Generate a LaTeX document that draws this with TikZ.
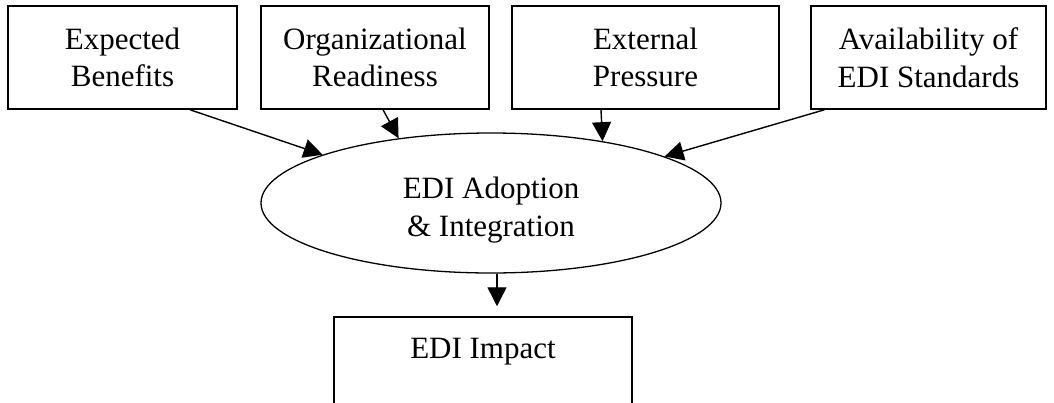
\documentclass[tikz,border=0pt]{standalone}
\usepackage{fontspec}
\setmainfont{Liberation Serif}
\usetikzlibrary{shapes.geometric,arrows.meta}
\begin{document}
\begin{tikzpicture}[x=1pt,y=-1pt,
  every node/.style={font=\fontsize{31}{37.5}\selectfont, align=center, inner sep=0pt},
  factor/.style={draw, line width=1.5pt, minimum height=103pt},
  central/.style={draw, ellipse, line width=1.3pt, minimum width=460pt, minimum height=140pt},
  arr/.style={line width=1.4pt, -{Triangle[length=19pt,width=19pt]}}]
\useasboundingbox (0,0) rectangle (1054,402);
\clip (0,0) rectangle (1054,402);
\node[factor, minimum width=229pt] (b1) at (122.5,57.5) {Expected\\Benefits};
\node[factor, minimum width=228pt] (b2) at (375,57.5) {Organizational\\Readiness};
\node[factor, minimum width=267pt] (b3) at (645.5,57.5) {External\\Pressure};
\node[factor, minimum width=235pt] (b4) at (928.5,57.5) {Availability of\\EDI Standards};
\node[central, label={[yshift=-7pt]center:{EDI Adoption\\\& Integration}}] (e) at (491,203) {};
\node[factor, minimum width=298pt, minimum height=100pt] (imp) at (483,367) {EDI Impact\\\mbox{}};
\draw[arr] ([xshift=67.5pt]b1.south) -- (e.164);
\draw[arr] ([xshift=8pt]b2.south) -- (e.145.5);
\draw[arr] ([xshift=-44.5pt]b3.south) -- (e.29.2);
\draw[arr] ([xshift=-104pt]b4.south) -- (e.15.6);
\draw[arr, shorten >=10pt] ([xshift=6pt]e.south) -- ([xshift=14pt]imp.north);
\end{tikzpicture}
\end{document}
